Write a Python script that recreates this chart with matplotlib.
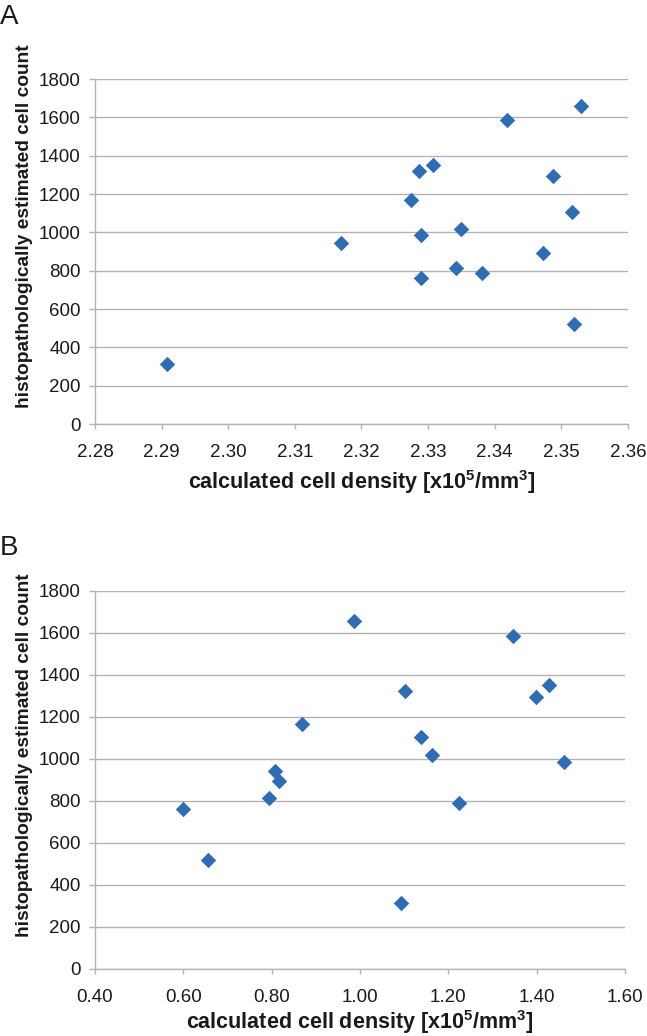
import numpy as np
import matplotlib.pyplot as plt

# cell counts (histopathology) per sample, same samples in both panels
cell_count = [312, 942, 1167, 1322, 1353, 987, 764, 814, 1018, 789, 1587, 1657, 1294, 1105, 893, 521]

# panel A: calculated cell density [x10^5/mm^3]
density_a = [2.2908, 2.3169, 2.3275, 2.3286, 2.3308, 2.3290, 2.3290, 2.3342,
             2.3350, 2.3381, 2.3418, 2.3530, 2.3487, 2.3516, 2.3473, 2.3519]

# panel B: calculated cell density [x10^5/mm^3]
density_b = [1.093, 0.808, 0.868, 1.102, 1.429, 1.462, 0.599, 0.795,
             1.163, 1.225, 1.346, 0.987, 1.399, 1.138, 0.817, 0.656]

xticks_a = [2.28, 2.29, 2.30, 2.31, 2.32, 2.33, 2.34, 2.35, 2.36]
xticks_b = [0.40, 0.60, 0.80, 1.00, 1.20, 1.40, 1.60]
yticks = [0, 200, 400, 600, 800, 1000, 1200, 1400, 1600, 1800]

plt.rcParams['font.family'] = ['Liberation Sans', 'DejaVu Sans']
plt.rcParams['mathtext.fontset'] = 'custom'
plt.rcParams['mathtext.bf'] = 'Liberation Sans:bold'
plt.rcParams['mathtext.rm'] = 'Liberation Sans'

fig = plt.figure(figsize=(6.47, 10.36), dpi=100)
ax_a = fig.add_axes([0.1468, 0.5907, 0.8238, 0.3330])
ax_b = fig.add_axes([0.1468, 0.0647, 0.8192, 0.3649])

grid_col = '#b3b3b3'
txt_col = '#1a1a1a'
xlab = r'calculated cell density [x10$^\mathbf{5}$/mm$^\mathbf{3}$]'
ylab = 'histopathologically estimated cell count'

panels = [(ax_a, density_a, xticks_a, -0.1884, 0.574),
          (ax_b, density_b, xticks_b, -0.1587, 0.566)]

for ax, dens, xt, xl_y, yl_y in panels:
    ax.scatter(dens, cell_count, marker='D', s=62, color='#2e6db4', zorder=3, linewidths=0)
    ax.set_xlim(xt[0], xt[-1])
    ax.set_ylim(0, 1800)
    ax.set_xticks(xt)
    ax.set_xticklabels(['%.2f' % v for v in xt])
    ax.set_yticks(yticks)
    ax.yaxis.grid(True, color=grid_col, linewidth=1.0)
    ax.set_axisbelow(True)
    for s in ['top', 'right']:
        ax.spines[s].set_visible(False)
    for s in ['left', 'bottom']:
        ax.spines[s].set_color(grid_col)
        ax.spines[s].set_linewidth(1.0)
    ax.tick_params(axis='both', colors=grid_col, labelcolor=txt_col,
                   labelsize=13.5, width=1.0, direction='out')
    ax.tick_params(axis='x', length=3.5, pad=11)
    ax.tick_params(axis='y', length=4.3, pad=6)

    ax.set_xlabel(xlab, fontsize=15.5, fontweight='bold', color=txt_col)
    ax.xaxis.label.set_va('baseline')
    ax.xaxis.set_label_coords(0.5, xl_y)

    ax.set_ylabel(ylab, fontsize=13.8, fontweight='bold', color=txt_col)
    ax.yaxis.set_label_coords(-0.116, yl_y)

fig.text(0.0, 0.9768, 'A', fontsize=20, va='baseline', ha='left', color=txt_col)
fig.text(0.0, 0.4643, 'B', fontsize=20, va='baseline', ha='left', color=txt_col)

fig.savefig('out.png', dpi=100)
